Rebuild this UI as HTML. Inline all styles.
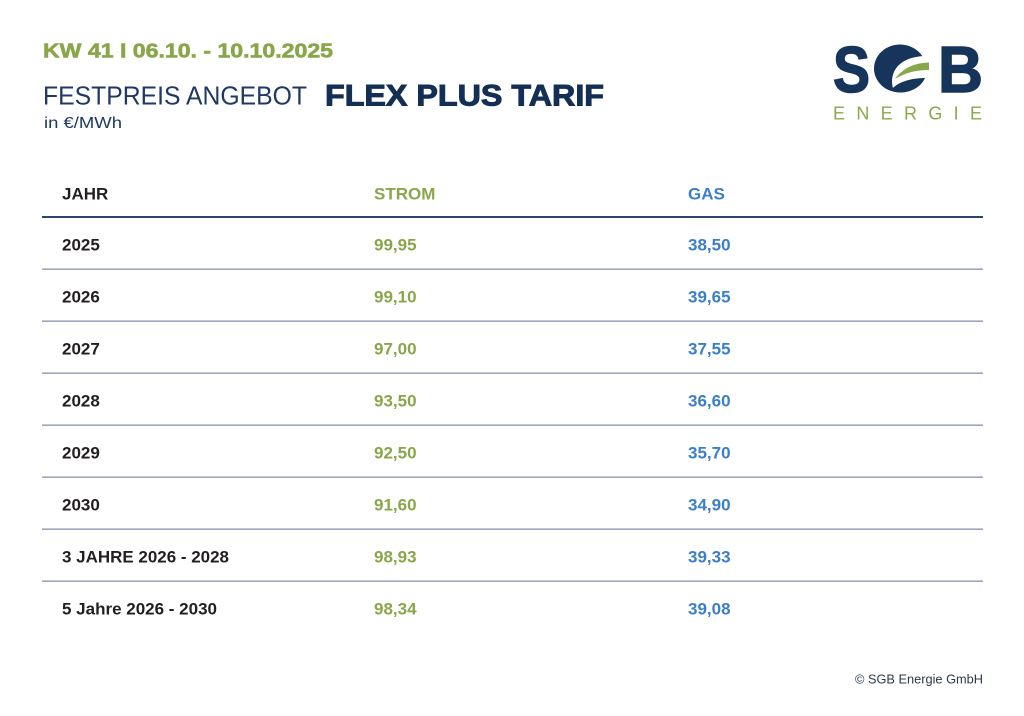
<!DOCTYPE html>
<html>
<head>
<meta charset="utf-8">
<style>
  html, body { margin: 0; padding: 0; background: #ffffff; }
  svg { display: block; }
  text { font-family: "Liberation Sans", Arial, sans-serif; }
</style>
</head>
<body>
<svg width="1024" height="716" viewBox="0 0 1024 716" xmlns="http://www.w3.org/2000/svg">
  <rect x="0" y="0" width="1024" height="716" fill="#ffffff"/>

  <!-- Header -->
  <text x="43" y="57.3" font-size="20" font-weight="bold" fill="#8aa64a" stroke="#8aa64a" stroke-width="0.6" textLength="290" lengthAdjust="spacingAndGlyphs">KW 41 I 06.10. - 10.10.2025</text>
  <text x="43" y="104.5" font-size="26" fill="#1f3864" textLength="264" lengthAdjust="spacingAndGlyphs">FESTPREIS ANGEBOT</text>
  <text x="325" y="105.5" font-size="30" font-weight="bold" fill="#142f55" stroke="#142f55" stroke-width="1" textLength="279" lengthAdjust="spacingAndGlyphs">FLEX PLUS TARIF</text>
  <text x="44" y="128" font-size="15.5" fill="#1f3864" textLength="78" lengthAdjust="spacingAndGlyphs">in €/MWh</text>

  <!-- Logo -->
  <text x="833" y="92" font-size="65" font-weight="bold" fill="#17345b" stroke="#17345b" stroke-width="1.5" textLength="37" lengthAdjust="spacingAndGlyphs">S</text>
  <text x="938" y="92" font-size="65" font-weight="bold" fill="#17345b" stroke="#17345b" stroke-width="1.5" textLength="45" lengthAdjust="spacingAndGlyphs">B</text>
  <ellipse cx="900" cy="68.5" rx="26" ry="24" fill="#17345b"/>
  <path d="M 893 88 C 889 72, 899 56, 927 56 L 931 56 L 931 83 C 916 78, 901 80, 893 88 Z" fill="#ffffff"/>
  <path d="M 895 79 C 903 68, 914 63, 929 62.5 L 929 70 C 915 70, 905 73, 895 79 Z" fill="#8aa84b"/>
  <path d="M 893 88 C 901 80, 916 78, 925 78 C 921 87, 911 92.5, 900 92.5 C 897 92.5, 895 91, 893 88 Z" fill="#17345b"/>
  <text x="833" y="119.5" font-size="18" fill="#8aa84b" textLength="149" lengthAdjust="spacing">ENERGIE</text>

  <!-- Table header -->
  <text x="62" y="199.3" font-size="17" font-weight="bold" fill="#231f20">JAHR</text>
  <text x="374" y="199.3" font-size="17" font-weight="bold" fill="#8aa64a">STROM</text>
  <text x="688" y="199.3" font-size="17" font-weight="bold" fill="#3b7fc6">GAS</text>
  <rect x="42" y="216" width="941" height="2" fill="#2d4566"/>

  <!-- Row lines -->
  <g fill="#8393a8">
    <rect x="42" y="268.5" width="941" height="1.3"/>
    <rect x="42" y="320.5" width="941" height="1.3"/>
    <rect x="42" y="372.5" width="941" height="1.3"/>
    <rect x="42" y="424.5" width="941" height="1.3"/>
    <rect x="42" y="476.5" width="941" height="1.3"/>
    <rect x="42" y="528.5" width="941" height="1.3"/>
    <rect x="42" y="580.5" width="941" height="1.3"/>
  </g>

  <!-- Rows -->
  <g font-size="17" font-weight="bold">
    <text x="62" y="250.7" fill="#231f20">2025</text>
    <text x="374" y="250.7" fill="#8aa64a">99,95</text>
    <text x="688" y="250.7" fill="#3b7fc6">38,50</text>

    <text x="62" y="302.7" fill="#231f20">2026</text>
    <text x="374" y="302.7" fill="#8aa64a">99,10</text>
    <text x="688" y="302.7" fill="#3b7fc6">39,65</text>

    <text x="62" y="354.7" fill="#231f20">2027</text>
    <text x="374" y="354.7" fill="#8aa64a">97,00</text>
    <text x="688" y="354.7" fill="#3b7fc6">37,55</text>

    <text x="62" y="406.7" fill="#231f20">2028</text>
    <text x="374" y="406.7" fill="#8aa64a">93,50</text>
    <text x="688" y="406.7" fill="#3b7fc6">36,60</text>

    <text x="62" y="458.7" fill="#231f20">2029</text>
    <text x="374" y="458.7" fill="#8aa64a">92,50</text>
    <text x="688" y="458.7" fill="#3b7fc6">35,70</text>

    <text x="62" y="510.7" fill="#231f20">2030</text>
    <text x="374" y="510.7" fill="#8aa64a">91,60</text>
    <text x="688" y="510.7" fill="#3b7fc6">34,90</text>

    <text x="62" y="562.7" fill="#231f20" textLength="167" lengthAdjust="spacingAndGlyphs">3 JAHRE 2026 - 2028</text>
    <text x="374" y="562.7" fill="#8aa64a">98,93</text>
    <text x="688" y="562.7" fill="#3b7fc6">39,33</text>

    <text x="62" y="614.7" fill="#231f20" textLength="155" lengthAdjust="spacingAndGlyphs">5 Jahre 2026 - 2030</text>
    <text x="374" y="614.7" fill="#8aa64a">98,34</text>
    <text x="688" y="614.7" fill="#3b7fc6">39,08</text>
  </g>

  <!-- Footer -->
  <text x="855" y="683.3" font-size="13" fill="#2b3a4a" textLength="128" lengthAdjust="spacingAndGlyphs">© SGB Energie GmbH</text>
</svg>
</body>
</html>
